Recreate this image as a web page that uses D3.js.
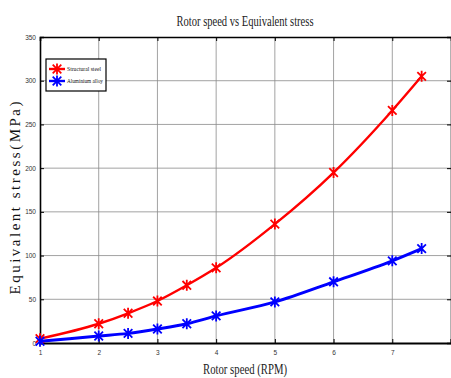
<!DOCTYPE html>
<html>
<head>
<meta charset="utf-8">
<script src="https://cdn.jsdelivr.net/npm/d3@7"></script>
<style>
  body { margin: 0; background: #fff; }
  text { font-family: 'Liberation Serif', 'DejaVu Serif', serif; }
</style>
</head>
<body>
<div id="chart"></div>
<script>
// rotor speed values (RPM)
const speeds = [1, 2, 2.5, 3, 3.5, 4, 5, 6, 7, 7.5];
const steelStress = [5, 22, 34, 48, 66, 86, 136, 195, 266, 305];
const aluminiumStress = [2, 8, 11, 16, 22, 31, 47, 70, 94, 108];
const xTicks = [1, 2, 3, 4, 5, 6, 7, 8];
const yTicks = [0, 50, 100, 150, 200, 250, 300, 350];
const seriesNames = ['Structural steel', 'Aluminium alloy'];

const W = 451, H = 378;
const margin = { top: 37, right: 0, bottom: 35, left: 40 };
const width = W - margin.left - margin.right;
const height = H - margin.top - margin.bottom;

const svg = d3.select('#chart').append('svg')
  .attr('width', W)
  .attr('height', H);

const g = svg.append('g')
  .attr('transform', `translate(${margin.left}, ${margin.top})`);

const x = d3.scaleLinear().domain([1, 8]).range([0, width]);
const y = d3.scaleLinear().domain([0, 350]).range([height, 0]);

// grid
g.append('g').selectAll('line').data(xTicks.slice(1, -1)).join('line')
  .attr('x1', (d) => x(d)).attr('x2', (d) => x(d))
  .attr('y1', 0).attr('y2', height)
  .attr('stroke', '#8a8a8a').attr('stroke-width', 0.8);
g.append('g').selectAll('line').data(yTicks.slice(1, -1)).join('line')
  .attr('x1', 0).attr('x2', width)
  .attr('y1', (d) => y(d)).attr('y2', (d) => y(d))
  .attr('stroke', '#8a8a8a').attr('stroke-width', 0.8);

// axes
const xAxis = g.append('g')
  .attr('transform', `translate(0, ${height})`)
  .call(d3.axisBottom(x).tickValues(xTicks.slice(0, -1)).tickSize(-4).tickPadding(7).tickFormat(d3.format('d')));
const yAxis = g.append('g')
  .call(d3.axisLeft(y).tickValues(yTicks).tickSize(-4).tickPadding(4));
g.append('g')
  .call(d3.axisTop(x).tickValues(xTicks).tickSize(-4).tickFormat(''));
g.append('g')
  .attr('transform', `translate(${width}, 0)`)
  .call(d3.axisRight(y).tickValues(yTicks).tickSize(-4).tickFormat(''));

g.selectAll('.domain').attr('stroke', '#000').attr('stroke-width', 1.6);
g.selectAll('.tick line').attr('stroke', '#000');
g.selectAll('.tick text')
  .attr('fill', '#333')
  .style('font-size', '6.5px')
  .style('font-family', "'Liberation Sans Narrow', 'Liberation Sans', sans-serif");
xAxis.select('.domain').attr('stroke-width', 2.2);

// series
const series = [
  { name: seriesNames[0], values: steelStress, color: '#ff0000', lw: 2.4 },
  { name: seriesNames[1], values: aluminiumStress, color: '#0000ff', lw: 3 }
];

const line = d3.line()
  .x((d) => x(d[0]))
  .y((d) => y(d[1]))
  .curve(d3.curveMonotoneX);

function star(sel, cx, cy, r, color) {
  const k = r * 0.78;
  return sel.append('path')
    .attr('d', `M${cx - k},${cy - k}L${cx + k},${cy + k}M${cx - k},${cy + k}L${cx + k},${cy - k}M${cx},${cy - r}L${cx},${cy + r}`)
    .attr('stroke', color).attr('stroke-width', 1.8).attr('fill', 'none');
}

series.forEach((s) => {
  const pts = speeds.map((v, i) => [v, s.values[i]]);
  g.append('path')
    .datum(pts)
    .attr('fill', 'none')
    .attr('stroke', s.color)
    .attr('stroke-width', s.lw)
    .attr('d', line);
  pts.forEach((p) => star(g, x(p[0]), y(p[1]), 5.5, s.color));
});

// legend
const lg = g.append('g').attr('transform', 'translate(6, 22)');
lg.append('rect')
  .attr('width', 60).attr('height', 32)
  .attr('fill', '#fff').attr('stroke', '#000').attr('stroke-width', 1.2);
series.forEach((s, i) => {
  const ly = 10 + i * 12;
  lg.append('line')
    .attr('x1', 3).attr('x2', 19).attr('y1', ly).attr('y2', ly)
    .attr('stroke', s.color).attr('stroke-width', 2.4);
  star(lg, 11, ly, 5.5, s.color);
  lg.append('text')
    .attr('x', 21).attr('y', ly + 2)
    .attr('textLength', i === 0 ? 34 : 36)
    .attr('lengthAdjust', 'spacingAndGlyphs')
    .style('font-size', '7px')
    .attr('fill', '#111')
    .text(s.name);
});

// title and labels
svg.append('text')
  .attr('x', 245).attr('y', 26)
  .attr('text-anchor', 'middle')
  .attr('textLength', 137)
  .attr('lengthAdjust', 'spacingAndGlyphs')
  .style('font-size', '14px')
  .attr('fill', '#222')
  .text('Rotor speed vs Equivalent stress');

svg.append('text')
  .attr('x', 245).attr('y', 374)
  .attr('text-anchor', 'middle')
  .attr('textLength', 84)
  .attr('lengthAdjust', 'spacingAndGlyphs')
  .style('font-size', '14px')
  .attr('fill', '#222')
  .text('Rotor speed (RPM)');

svg.append('text')
  .attr('transform', 'translate(20, 198) rotate(-90)')
  .attr('text-anchor', 'middle')
  .attr('textLength', 193)
  .attr('lengthAdjust', 'spacing')
  .style('font-size', '15px')
  .attr('fill', '#111')
  .text('Equivalent stress(MPa)');
</script>
</body>
</html>
